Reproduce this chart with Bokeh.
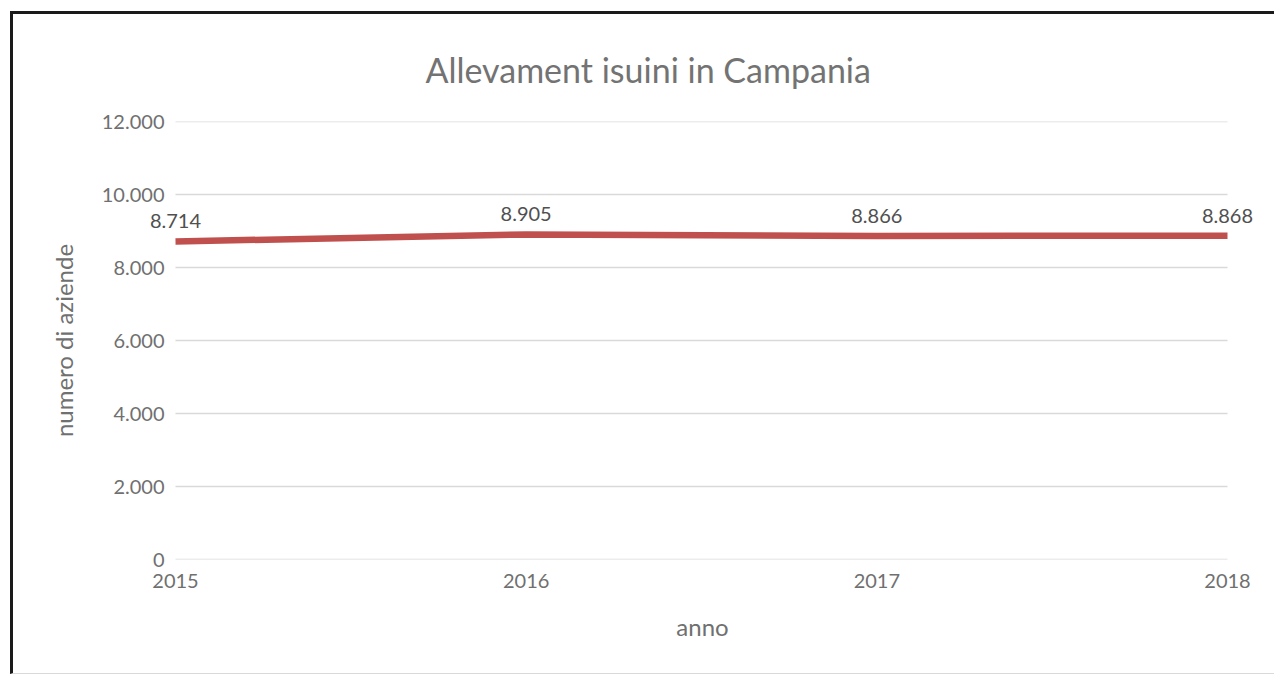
from bokeh.plotting import figure
from bokeh.models import (Range1d, FixedTicker, ColumnDataSource, LabelSet)
from bokeh.core.properties import value
from bokeh.embed import file_html
from bokeh.resources import INLINE

# ---- data ----
years = [2015, 2016, 2017, 2018]
aziende = [8714, 8905, 8866, 8868]
value_labels = ["8.714", "8.905", "8.866", "8.868"]
y_ticks = [0, 2000, 4000, 6000, 8000, 10000, 12000]
y_tick_labels = ["0", "2.000", "4.000", "6.000", "8.000", "10.000", "12.000"]
x_tick_labels = ["2015", "2016", "2017", "2018"]
title_text = "Allevament isuini in Campania"
x_title = "anno"
y_title = "numero di aziende"

FONT = "Lato"
W, H = 1264, 663
PLOT_W = 1052                     # px between first and last year
px_per_unit = PLOT_W / (years[-1] - years[0])
PAD_L, PAD_R = 28, 30             # extra frame room so edge labels are not clipped

p = figure(width=W, height=H, output_backend="svg", toolbar_location=None,
           x_range=Range1d(years[0] - PAD_L / px_per_unit, years[-1] + PAD_R / px_per_unit),
           y_range=Range1d(y_ticks[0], y_ticks[-1]),
           min_border_left=134, min_border_right=20, min_border_top=107, min_border_bottom=118,
           styles={"margin-left": "10px", "margin-top": "11px",
                   "border-left": "3px solid #1a1a1a", "border-top": "3px solid #1a1a1a",
                   "border-bottom": "1px solid #d9d9d9"})
p.outline_line_color = None
p.background_fill_color = "white"
p.border_fill_color = "white"

# grids drawn only across the data span
p.xgrid.grid_line_color = None
p.ygrid.grid_line_color = None
grid_src = ColumnDataSource(dict(x0=[years[0]] * len(y_ticks), x1=[years[-1]] * len(y_ticks),
                                 y=y_ticks))
p.segment(x0="x0", y0="y", x1="x1", y1="y", source=grid_src,
          line_color="#d9d9d9", line_width=1.5)

# title
p.title.text = title_text
p.title.align = "left"
p.title.vertical_align = "top"
p.title.offset = 278
p.title.standoff = 60
p.title.text_font = FONT
p.title.text_font_size = "34px"
p.title.text_font_style = "normal"
p.title.text_color = "#737373"

# y axis
p.yaxis.ticker = FixedTicker(ticks=y_ticks)
p.yaxis.major_label_overrides = {t: l for t, l in zip(y_ticks, y_tick_labels)}
p.yaxis.axis_line_color = None
p.yaxis.major_tick_line_color = None
p.yaxis.minor_tick_line_color = None
p.yaxis.major_label_text_font = FONT
p.yaxis.major_label_text_font_size = "20px"
p.yaxis.major_label_text_color = "#707070"
p.yaxis.major_label_standoff = 5 - PAD_L
p.yaxis.axis_label = y_title
p.yaxis.axis_label_text_font = FONT
p.yaxis.axis_label_text_font_size = "24px"
p.yaxis.axis_label_text_font_style = "normal"
p.yaxis.axis_label_text_color = "#707070"
p.yaxis.axis_label_standoff = 21

# x axis
p.xaxis.ticker = FixedTicker(ticks=years)
p.xaxis.major_label_overrides = {t: l for t, l in zip(years, x_tick_labels)}
p.xaxis.axis_line_color = None
p.xaxis.major_tick_line_color = None
p.xaxis.minor_tick_line_color = None
p.xaxis.major_label_text_font = FONT
p.xaxis.major_label_text_font_size = "20px"
p.xaxis.major_label_text_color = "#707070"
p.xaxis.major_label_standoff = 8
p.xaxis.axis_label = x_title
p.xaxis.axis_label_text_font = FONT
p.xaxis.axis_label_text_font_size = "24px"
p.xaxis.axis_label_text_font_style = "normal"
p.xaxis.axis_label_text_color = "#707070"
p.xaxis.axis_label_standoff = 21

# line
src = ColumnDataSource(dict(x=years, y=aziende, lab=value_labels))
p.line("x", "y", source=src, line_color="#c0504d", line_width=6.5)

# data labels
labels = LabelSet(x="x", y="y", text="lab", source=src, text_align="center",
                  text_baseline="alphabetic", y_offset=13, text_font=value(FONT),
                  text_font_size="20px", text_color="#505050")
p.add_layout(labels)

open("out.html", "w").write(file_html(p, INLINE))
